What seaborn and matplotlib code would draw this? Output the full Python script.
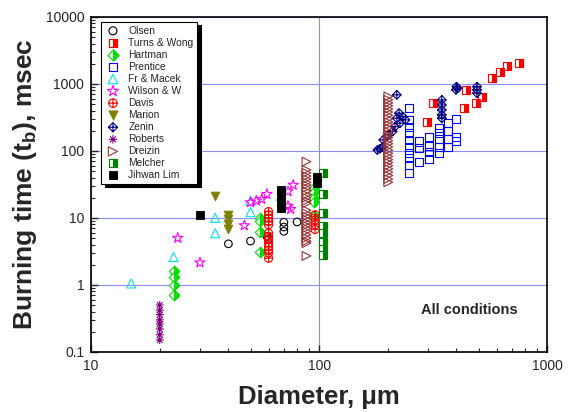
import numpy as np
import pandas as pd
import seaborn as sns
import matplotlib
matplotlib.use('Agg')
import matplotlib.pyplot as plt
from matplotlib.path import Path
from matplotlib.markers import MarkerStyle
from matplotlib.legend_handler import HandlerTuple

sns.set_style('ticks')
plt.rcParams['font.family'] = ['Liberation Sans', 'DejaVu Sans']
plt.rcParams['mathtext.fontset'] = 'custom'
plt.rcParams['mathtext.rm'] = 'Liberation Sans:bold'
plt.rcParams['mathtext.it'] = 'Liberation Sans:bold'

# ---------------------------------------------------------------
# data (diameter in um, burning time in msec)
olsen_x = [40, 50, 59, 60, 70, 70, 70, 80]
olsen_y = [4.1, 4.5, 5.3, 4.9, 8.6, 7.3, 6.3, 8.7]

turns_x = [296, 317, 430, 441, 489, 517, 571, 618, 666, 753]
turns_y = [273, 515, 433, 815, 526, 632, 1216, 1510, 1857, 2080]

hartman_x = [23, 23, 23, 23, 55, 55, 55, 55, 95, 95, 95, 95, 95]
hartman_y = [1.6, 1.3, 1.0, 0.7, 10, 9.0, 6.2, 3.1, 28, 24, 20, 17, 10.5]

prentice_x = [247] * 10 + [275] * 3 + [304] * 4 + [336] * 5 + [366] * 4 + [399] * 3
prentice_y = [433, 290, 230, 183, 146, 116, 92, 78, 62, 47,
              138, 110, 69,
              162, 120, 95, 75,
              218, 183, 150, 116, 92,
              264, 200, 151, 116,
              300, 162, 141]

macek_x = [15, 23, 35, 35, 50, 50, 68]
macek_y = [1.05, 2.6, 10, 5.9, 18, 12.2, 21]

wilson_x = [24, 30, 47, 50, 53, 56, 59, 73, 77, 73, 75]
wilson_y = [5.0, 2.15, 7.7, 17, 18, 19, 22.6, 24.8, 31, 15, 13.5]

davis_x = [60] * 13 + [96] * 4
davis_y = [12.4, 11.1, 9.9, 8.8, 7.9, 5.9, 5.3, 4.7, 4.2, 3.7, 3.3, 3.0, 2.5,
           11.1, 9.3, 7.9, 6.7]

marion_x = [35, 40, 40, 40, 40]
marion_y = [21, 11, 9.5, 8, 6.8]

zenin_x = [180, 185, 190, 191, 201, 210, 215, 219, 226, 239, 219, 224, 233,
           345, 345, 345, 345, 345, 400, 404, 398, 492, 492, 492]
zenin_y = [103, 108, 114, 146, 173, 195, 230, 307, 259, 290, 686, 366, 325,
           577, 485, 409, 345, 307, 910, 860, 815, 910, 815, 725]

roberts_x = [20] * 8
roberts_y = [0.50, 0.42, 0.36, 0.30, 0.26, 0.22, 0.18, 0.15]

dreizin_x = [88] * 26 + [201] * 28
dreizin_y = [69, 52, 47, 42, 38, 34, 31, 28, 25, 22, 20, 18, 16.5,
             13, 11.7, 10.5, 9.5, 8.5, 7.7, 7, 6.3, 5.6, 5, 4.5, 4.2, 2.7,
             650, 580, 520, 470, 420, 380, 340, 300, 270, 245, 220, 195, 175, 158,
             142, 128, 115, 103, 92, 83, 74, 67, 60, 54, 48, 43, 38, 34]

melcher_x = [104] * 8
melcher_y = [46.5, 22.6, 12.0, 7.6, 5.9, 4.3, 3.4, 2.8]

lim_x = [30, 68, 68, 68, 68, 98, 98]
lim_y = [11, 26.5, 22.5, 17.5, 13.9, 41, 33]

# ---------------------------------------------------------------
# custom markers
M, L = Path.MOVETO, Path.LINETO
circ_cross = Path.make_compound_path(
    Path.unit_circle(),
    Path([[-1, 0], [1, 0]], [M, L]),
    Path([[0, -1], [0, 1]], [M, L]))
diam_cross = Path([[0, 1], [1, 0], [0, -1], [-1, 0], [0, 1],
                   [-1, 0], [1, 0], [0, -1], [0, 1]],
                  [M, L, L, L, L, M, L, M, L])
star8 = Path([[-1, 0], [1, 0], [0, -1], [0, 1],
              [-0.7, -0.7], [0.7, 0.7], [-0.7, 0.7], [0.7, -0.7]],
             [M, L, M, L, M, L, M, L])

fig = plt.figure(figsize=(5.73, 4.12), dpi=100)
ax = fig.add_subplot(1, 1, 1)
fig.subplots_adjust(left=0.159, right=0.955, top=0.959, bottom=0.146)

handles = []
labels = []


def open_pts(x, y, marker, col, s, label, lw=0.8):
    sns.scatterplot(x=x, y=y, marker=marker, s=s, color=col, facecolor='none',
                    edgecolor=col, linewidth=lw, ax=ax, zorder=3)
    handles.append(ax.collections[-1])
    labels.append(label)


def half_pts(x, y, marker, col, s, label):
    sns.scatterplot(x=x, y=y, marker=marker, s=s, color=col, facecolor='white',
                    edgecolor=col, linewidth=0.8, ax=ax, zorder=3)
    a = ax.collections[-1]
    sns.scatterplot(x=x, y=y, marker=MarkerStyle(marker, fillstyle='right'), s=s,
                    color=col, facecolor=col, edgecolor=col, linewidth=0.8, ax=ax, zorder=3)
    b = ax.collections[-1]
    handles.append((a, b))
    labels.append(label)


def full_pts(x, y, marker, col, s, label):
    sns.scatterplot(x=x, y=y, marker=marker, s=s, color=col, facecolor=col,
                    edgecolor=col, linewidth=0.6, ax=ax, zorder=3)
    handles.append(ax.collections[-1])
    labels.append(label)


open_pts(olsen_x, olsen_y, 'o', 'black', 30, 'Olsen')
half_pts(turns_x, turns_y, 's', '#ff0000', 30, 'Turns & Wong')
half_pts(hartman_x, hartman_y, 'D', '#00e000', 28, 'Hartman')
open_pts(prentice_x, prentice_y, 's', '#0000ff', 34, 'Prentice')
open_pts(macek_x, macek_y, '^', '#00e5ee', 42, 'Fr & Macek')
open_pts(wilson_x, wilson_y, '*', '#ff00ff', 60, 'Wilson & W')
open_pts(davis_x, davis_y, circ_cross, '#ff0000', 34, 'Davis')
full_pts(marion_x, marion_y, 'v', '#808000', 40, 'Marion')
open_pts(zenin_x, zenin_y, diam_cross, '#000080', 40, 'Zenin')
open_pts(roberts_x, roberts_y, star8, '#800080', 34, 'Roberts')
open_pts(dreizin_x, dreizin_y, '>', '#993333', 40, 'Dreizin')
half_pts(melcher_x, melcher_y, 's', '#008000', 30, 'Melcher')
full_pts(lim_x, lim_y, 's', 'black', 34, 'Jihwan Lim')

ax.set_xscale('log')
ax.set_yscale('log')
ax.set_xlim(10, 1000)
ax.set_ylim(0.1, 10000)
ax.set_xticks([10, 100, 1000], ['10', '100', '1000'])
ax.set_yticks([0.1, 1, 10, 100, 1000, 10000], ['0.1', '1', '10', '100', '1000', '10000'])
ax.tick_params(which='both', direction='in', top=False, right=False, labelsize=10)
ax.tick_params(which='major', length=5, width=1, pad=5)
ax.tick_params(which='minor', length=3, width=0.8)
ax.grid(True, which='major', color='#8c8cff', linewidth=0.8)
for sp in ax.spines.values():
    sp.set_linewidth(1.2)
    sp.set_color('black')

ax.set_xlabel('Diameter, \u03bcm', fontsize=18.5, fontweight='bold', labelpad=9)
ax.set_ylabel('Burning time (t$_\\mathrm{b}$), msec', fontsize=19, fontweight='bold', labelpad=5)

ax.text(0.83, 0.125, 'All conditions', transform=ax.transAxes, fontsize=10.5,
        fontweight='bold', ha='center', va='center')

leg = ax.legend(handles, labels, handler_map={tuple: HandlerTuple(ndivide=1, pad=0)},
                loc='upper left', bbox_to_anchor=(0.022, 0.985), fontsize=7.4,
                labelspacing=0.2, handlelength=1.6, handletextpad=0.7, borderpad=0.35,
                borderaxespad=0.0, markerscale=1.05,
                fancybox=False, framealpha=1, edgecolor='black',
                shadow={'color': 'black', 'alpha': 1, 'ox': 2.5, 'oy': -2.5})
leg.get_frame().set_linewidth(0.8)
leg.set_zorder(5)

fig.savefig('out.png', dpi=100)
